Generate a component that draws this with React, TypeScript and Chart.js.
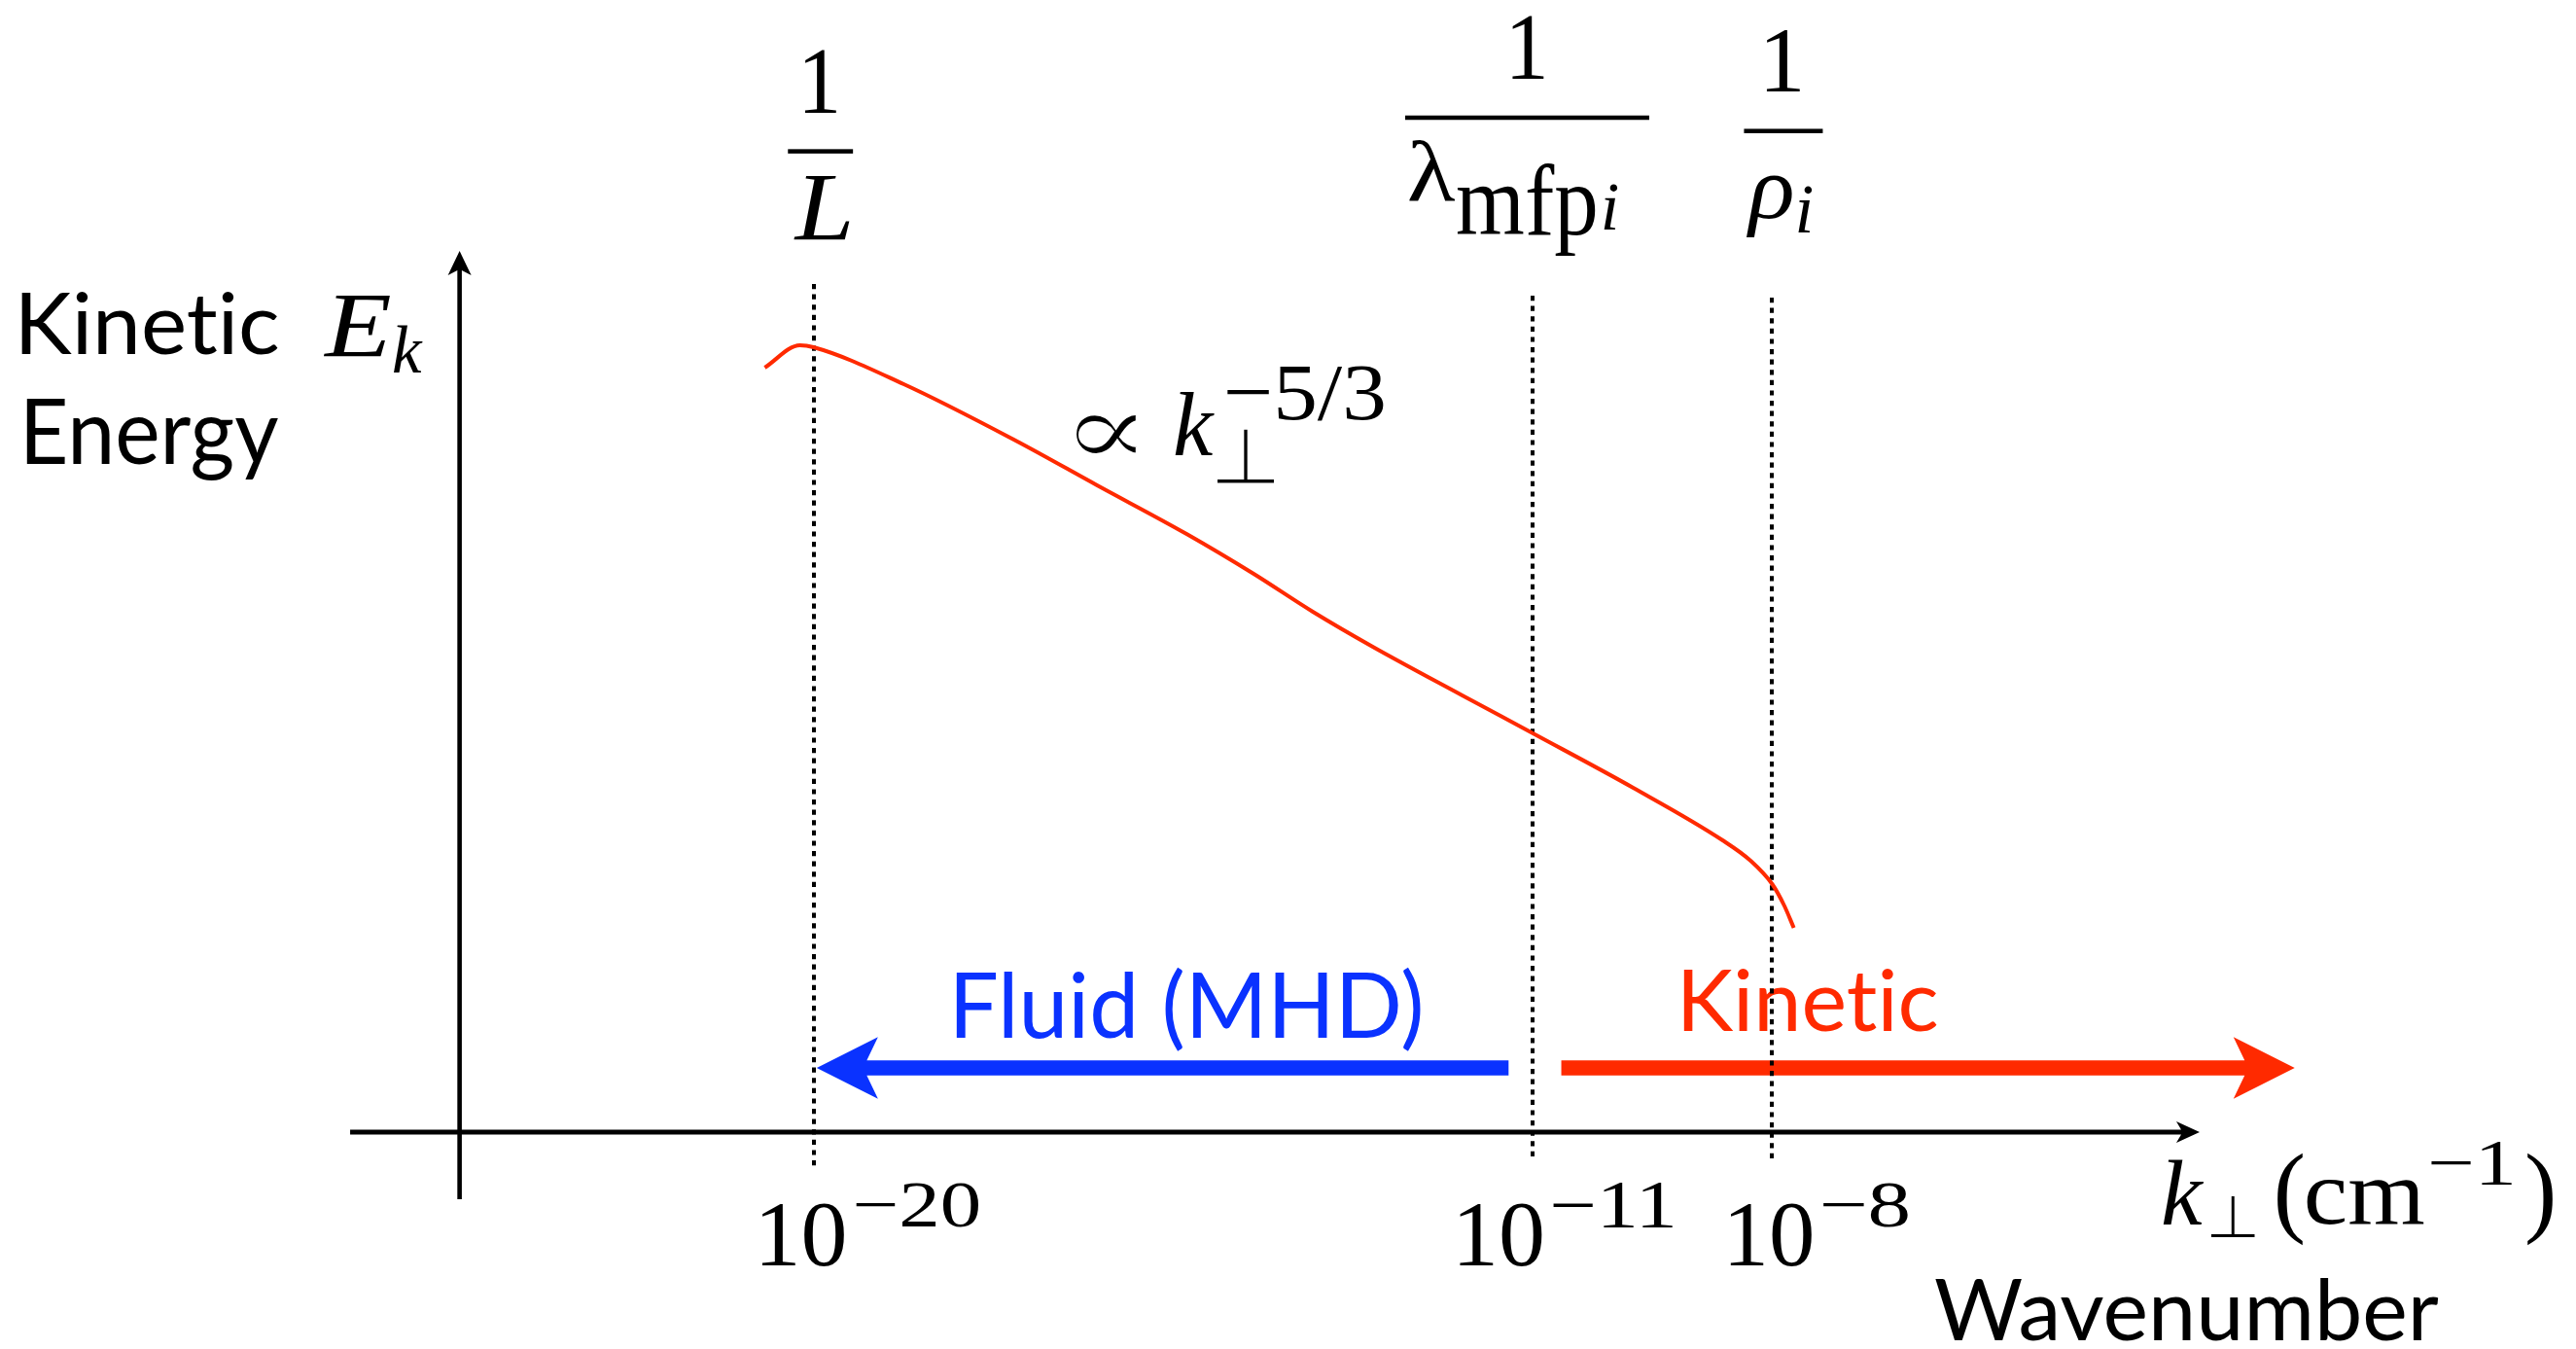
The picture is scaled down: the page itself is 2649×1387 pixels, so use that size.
import { useEffect, useRef } from "react";
import { Chart, registerables } from "chart.js";

Chart.register(...registerables);

// Energy spectrum: log10 of perpendicular wavenumber (cm^-1) vs. log of kinetic energy (arbitrary units)
const logK = [-20.61, -20.17, -20.0, -18.87, -17.47, -16.45, -15.33, -14.49, -13.75, -13.0, -11.88, -10.95, -9.74, -8.62, -8.27, -8.0, -7.85, -7.73];
const logE = [7.86, 8.09, 8.07, 7.69, 7.11, 6.65, 6.15, 5.74, 5.35, 4.99, 4.49, 4.08, 3.54, 3.0, 2.79, 2.55, 2.33, 2.1];

// Characteristic scales 1/L, 1/λ_mfp,i, 1/ρ_i (log10 k) and their tick exponents
const scaleLogK = [-20, -11, -8];
const scaleTickExps = ["\u221220", "\u221211", "\u22128"];
const scaleLineTop = [8.72, 8.6, 8.58];
const scaleLineBottom = [-0.39, -0.29, -0.32];

// Regime arrows (log10 k from -> to)
const regimeLabels = ["Fluid (MHD)", "Kinet\u200cic"];
const regimeFrom = [-11.3, -10.64];
const regimeTo = [-19.96, -1.46];
const regimeLevel = 0.66;

// Axis extents in data units
const xAxisFrom = -25.8;
const xAxisTo = -2.65;
const yAxisAt = -24.43;
const yAxisFrom = -0.69;
const yAxisTo = 9.06;

const RED = "#ff2a00";
const BLUE = "#0a32ff";
const SERIF = "'Liberation Serif', 'DejaVu Serif', serif";
const MATH = "'DejaVu Serif', serif";
const SANS = "Lato, 'Open Sans', sans-serif";

type Ctx = CanvasRenderingContext2D;

// draws text so that its ink fills the box [x0,x1] x [top,bottom]; thin > 0 erodes heavy glyphs
function fitText(ctx: Ctx, text: string, font: string, x0: number, x1: number, top: number, bottom: number, color: string, thin = 0) {
  ctx.save();
  ctx.font = font;
  ctx.textAlign = "left";
  ctx.textBaseline = "alphabetic";
  const m = ctx.measureText(text);
  const w = m.actualBoundingBoxLeft + m.actualBoundingBoxRight;
  const h = m.actualBoundingBoxAscent + m.actualBoundingBoxDescent;
  const sx = w > 0 ? (x1 - x0) / w : 1;
  const sy = h > 0 ? (bottom - top) / h : 1;
  ctx.translate(x0, top);
  ctx.scale(sx, sy);
  ctx.fillStyle = color;
  ctx.fillText(text, m.actualBoundingBoxLeft, m.actualBoundingBoxAscent);
  if (thin > 0) {
    ctx.strokeStyle = "#fff";
    ctx.lineWidth = thin;
    ctx.strokeText(text, m.actualBoundingBoxLeft, m.actualBoundingBoxAscent);
  }
  ctx.restore();
}

// draws text with its natural proportions: ink height fills [top,bottom], ink starts at x0
function fitHeight(ctx: Ctx, text: string, font: string, x0: number, top: number, bottom: number, color: string) {
  ctx.save();
  ctx.font = font;
  ctx.textAlign = "left";
  ctx.textBaseline = "alphabetic";
  const m = ctx.measureText(text);
  const h = m.actualBoundingBoxAscent + m.actualBoundingBoxDescent;
  const s = h > 0 ? (bottom - top) / h : 1;
  ctx.translate(x0, top);
  ctx.scale(s, s);
  ctx.fillStyle = color;
  ctx.fillText(text, m.actualBoundingBoxLeft, m.actualBoundingBoxAscent);
  ctx.restore();
}

// plain glyph centred at cx on a baseline, optionally thinned
function glyph(ctx: Ctx, text: string, font: string, cx: number, baseline: number, color: string, thin = 0) {
  ctx.save();
  ctx.font = font;
  ctx.textAlign = "center";
  ctx.textBaseline = "alphabetic";
  ctx.fillStyle = color;
  ctx.fillText(text, cx, baseline);
  if (thin > 0) {
    ctx.strokeStyle = "#fff";
    ctx.lineWidth = thin;
    ctx.strokeText(text, cx, baseline);
  }
  ctx.restore();
}

function arrow(ctx: Ctx, x0: number, y0: number, x1: number, y1: number, shaftHalf: number, headLen: number, headHalf: number, notch: number, color: string) {
  const len = Math.hypot(x1 - x0, y1 - y0);
  const ux = (x1 - x0) / len;
  const uy = (y1 - y0) / len;
  const nx = -uy;
  const ny = ux;
  ctx.save();
  ctx.fillStyle = color;
  ctx.beginPath();
  ctx.moveTo(x0 + nx * shaftHalf, y0 + ny * shaftHalf);
  ctx.lineTo(x1 - ux * notch + nx * shaftHalf, y1 - uy * notch + ny * shaftHalf);
  ctx.lineTo(x1 - ux * headLen + nx * headHalf, y1 - uy * headLen + ny * headHalf);
  ctx.lineTo(x1, y1);
  ctx.lineTo(x1 - ux * headLen - nx * headHalf, y1 - uy * headLen - ny * headHalf);
  ctx.lineTo(x1 - ux * notch - nx * shaftHalf, y1 - uy * notch - ny * shaftHalf);
  ctx.lineTo(x0 - nx * shaftHalf, y0 - ny * shaftHalf);
  ctx.closePath();
  ctx.fill();
  ctx.restore();
}

function bar(ctx: Ctx, x0: number, x1: number, y: number, thick: number) {
  ctx.save();
  ctx.fillStyle = "#000";
  ctx.fillRect(x0, y - thick / 2, x1 - x0, thick);
  ctx.restore();
}

const schematicPlugin = {
  id: "schematic",
  beforeDatasetsDraw(chart: any) {
    const ctx: Ctx = chart.ctx;
    const xs = chart.scales.x;
    const ys = chart.scales.y;
    const X = (v: number) => xs.getPixelForValue(v);
    const Y = (v: number) => ys.getPixelForValue(v);

    // axes with arrow heads
    arrow(ctx, X(xAxisFrom), Y(0), X(xAxisTo), Y(0), 2.6, 24, 11, 19, "#000");
    arrow(ctx, X(yAxisAt), Y(yAxisFrom), X(yAxisAt), Y(yAxisTo), 2.3, 25, 12, 20, "#000");

    // regime arrows and their labels
    const regimeColors = [BLUE, RED];
    regimeLabels.forEach((_, i) => {
      arrow(ctx, X(regimeFrom[i]), Y(regimeLevel), X(regimeTo[i]), Y(regimeLevel), 7.7, 63, 31.7, 51.5, regimeColors[i]);
    });
    fitText(ctx, regimeLabels[0], `400 96px ${SANS}`, 983, 1461, 993, 1082, BLUE);
    fitText(ctx, regimeLabels[1], `400 96px ${SANS}`, 1731, 1992, 995, 1061, RED);

    // y-axis title
    fitText(ctx, "Kinet\u200cic", `400 96px ${SANS}`, 22, 286, 300, 365, "#000");
    fitText(ctx, "Energy", `400 96px ${SANS}`, 27, 286, 409, 495, "#000");
    fitText(ctx, "E", `italic 96px ${SERIF}`, 332, 402, 303.5, 366.7, "#000");
    fitHeight(ctx, "k", `italic 68px ${SERIF}`, 404, 335, 382.5, "#000");

    // x-axis title
    fitHeight(ctx, "k", `italic 96px ${SERIF}`, 2224, 1192, 1259, "#000");
    glyph(ctx, "\u22a5", `64px ${MATH}`, 2296, 1273, "#000", 2);
    fitText(ctx, "(", `96px ${SERIF}`, 2342, 2368, 1186, 1281, "#000");
    fitText(ctx, "cm", `96px ${SERIF}`, 2372, 2493, 1213, 1259, "#000");
    fitText(ctx, "\u22121", `66px ${SERIF}`, 2500, 2584, 1174, 1218, "#000");
    fitText(ctx, ")", `96px ${SERIF}`, 2599, 2625, 1186, 1281, "#000");
    fitText(ctx, "Wavenumber", `400 96px ${SANS}`, 1990, 2508, 1314, 1379, "#000");

    // power-law annotation
    fitText(ctx, "\u221d", `96px ${MATH}`, 1105, 1170, 425, 468, "#000", 2.2);
    fitHeight(ctx, "k", `italic 96px ${SERIF}`, 1208, 403, 468, "#000");
    glyph(ctx, "\u22a5", `84px ${MATH}`, 1281, 498, "#000", 3.2);
    fitText(ctx, "\u22125/3", `64px ${SERIF}`, 1262, 1423, 376, 432, "#000");

    // characteristic-scale markers: fractions on top, tick labels below
    const refX = [835, 1582, 1818];
    const c0 = X(scaleLogK[0]) - refX[0];
    fitText(ctx, "1", `96px ${SERIF}`, 826 + c0, 859 + c0, 52, 115.8, "#000");
    bar(ctx, 808.7 + c0, 875.6 + c0, 155.6, 4.5);
    fitText(ctx, "L", `italic 98px ${SERIF}`, 814 + c0, 872 + c0, 180.7, 245.6, "#000");

    const c1 = X(scaleLogK[1]) - refX[1];
    fitText(ctx, "1", `96px ${SERIF}`, 1561 + c1, 1594 + c1, 17.5, 81.4, "#000");
    bar(ctx, 1451 + c1, 1702 + c1, 121, 4.5);
    fitText(ctx, "\u03bb", `92px ${SERIF}`, 1455 + c1, 1503 + c1, 145, 208, "#000");
    fitText(ctx, "mfp", `98px ${SERIF}`, 1505 + c1, 1647 + c1, 168, 263, "#000");
    fitHeight(ctx, "i", `italic 64px ${SERIF}`, 1655 + c1, 190, 236, "#000");

    const c2 = X(scaleLogK[2]) - refX[2];
    fitText(ctx, "1", `96px ${SERIF}`, 1812 + c2, 1847 + c2, 31, 94, "#000");
    bar(ctx, 1789 + c2, 1870 + c2, 134.7, 4.5);
    fitText(ctx, "\u03c1", `italic 96px ${SERIF}`, 1791 + c2, 1839 + c2, 180.7, 243.9, "#000");
    fitHeight(ctx, "i", `italic 72px ${SERIF}`, 1845 + c2, 191, 238.6, "#000");

    const tickBoxes = [
      [-53, 32, 43.6, 170],
      [-75, 10, 21, 145],
      [-43, 41, 52, 140],
    ];
    scaleLogK.forEach((v, i) => {
      const c = X(v) - refX[i];
      const b = tickBoxes[i];
      fitText(ctx, "10", `96px ${SERIF}`, refX[i] + b[0] + c, refX[i] + b[1] + c, 1237, 1302, "#000");
      fitText(ctx, scaleTickExps[i], `66px ${SERIF}`, refX[i] + b[2] + c, refX[i] + b[3] + c, 1217, 1262, "#000");
    });

    // dotted guide lines
    ctx.save();
    ctx.strokeStyle = "#000";
    ctx.lineWidth = 4;
    ctx.setLineDash([5.2, 5.4]);
    scaleLogK.forEach((v, i) => {
      const x = Math.round(X(v));
      ctx.beginPath();
      ctx.moveTo(x, Y(scaleLineTop[i]));
      ctx.lineTo(x, Y(scaleLineBottom[i]));
      ctx.stroke();
    });
    ctx.restore();
  },
};

export default function App() {
  const canvasRef = useRef<HTMLCanvasElement | null>(null);

  useEffect(() => {
    const canvas = canvasRef.current;
    if (!canvas) return;
    const chart = new Chart(canvas, {
      type: "line",
      data: {
        datasets: [
          {
            label: "E_k",
            data: logK.map((k, i) => ({ x: k, y: logE[i] })),
            borderColor: RED,
            borderWidth: 4,
            pointRadius: 0,
            fill: false,
            cubicInterpolationMode: "monotone",
          },
        ],
      },
      options: {
        animation: false,
        responsive: true,
        maintainAspectRatio: false,
        devicePixelRatio: 1,
        layout: { padding: { left: 15, right: 5, top: 4, bottom: 3 } },
        scales: {
          x: { type: "linear", min: -30, max: 2, display: false },
          y: { type: "linear", min: -2.2, max: 11.6, display: false },
        },
        plugins: {
          legend: { display: false },
          tooltip: { enabled: false },
        },
      },
      plugins: [schematicPlugin],
    } as any);

    let alive = true;
    const fonts = (document as any).fonts;
    if (fonts && fonts.load) {
      Promise.all([
        fonts.load(`96px Lato`),
        fonts.load(`96px 'Liberation Serif'`),
        fonts.load(`italic 96px 'Liberation Serif'`),
        fonts.load(`96px 'DejaVu Serif'`),
      ])
        .catch(() => null)
        .then(() => {
          if (alive) chart.update();
        });
    }
    return () => {
      alive = false;
      chart.destroy();
    };
  }, []);

  return (
    <div style={{ position: "fixed", left: 0, top: 0, width: "100vw", height: "100vh", background: "#fff" }}>
      <canvas ref={canvasRef} />
    </div>
  );
}
